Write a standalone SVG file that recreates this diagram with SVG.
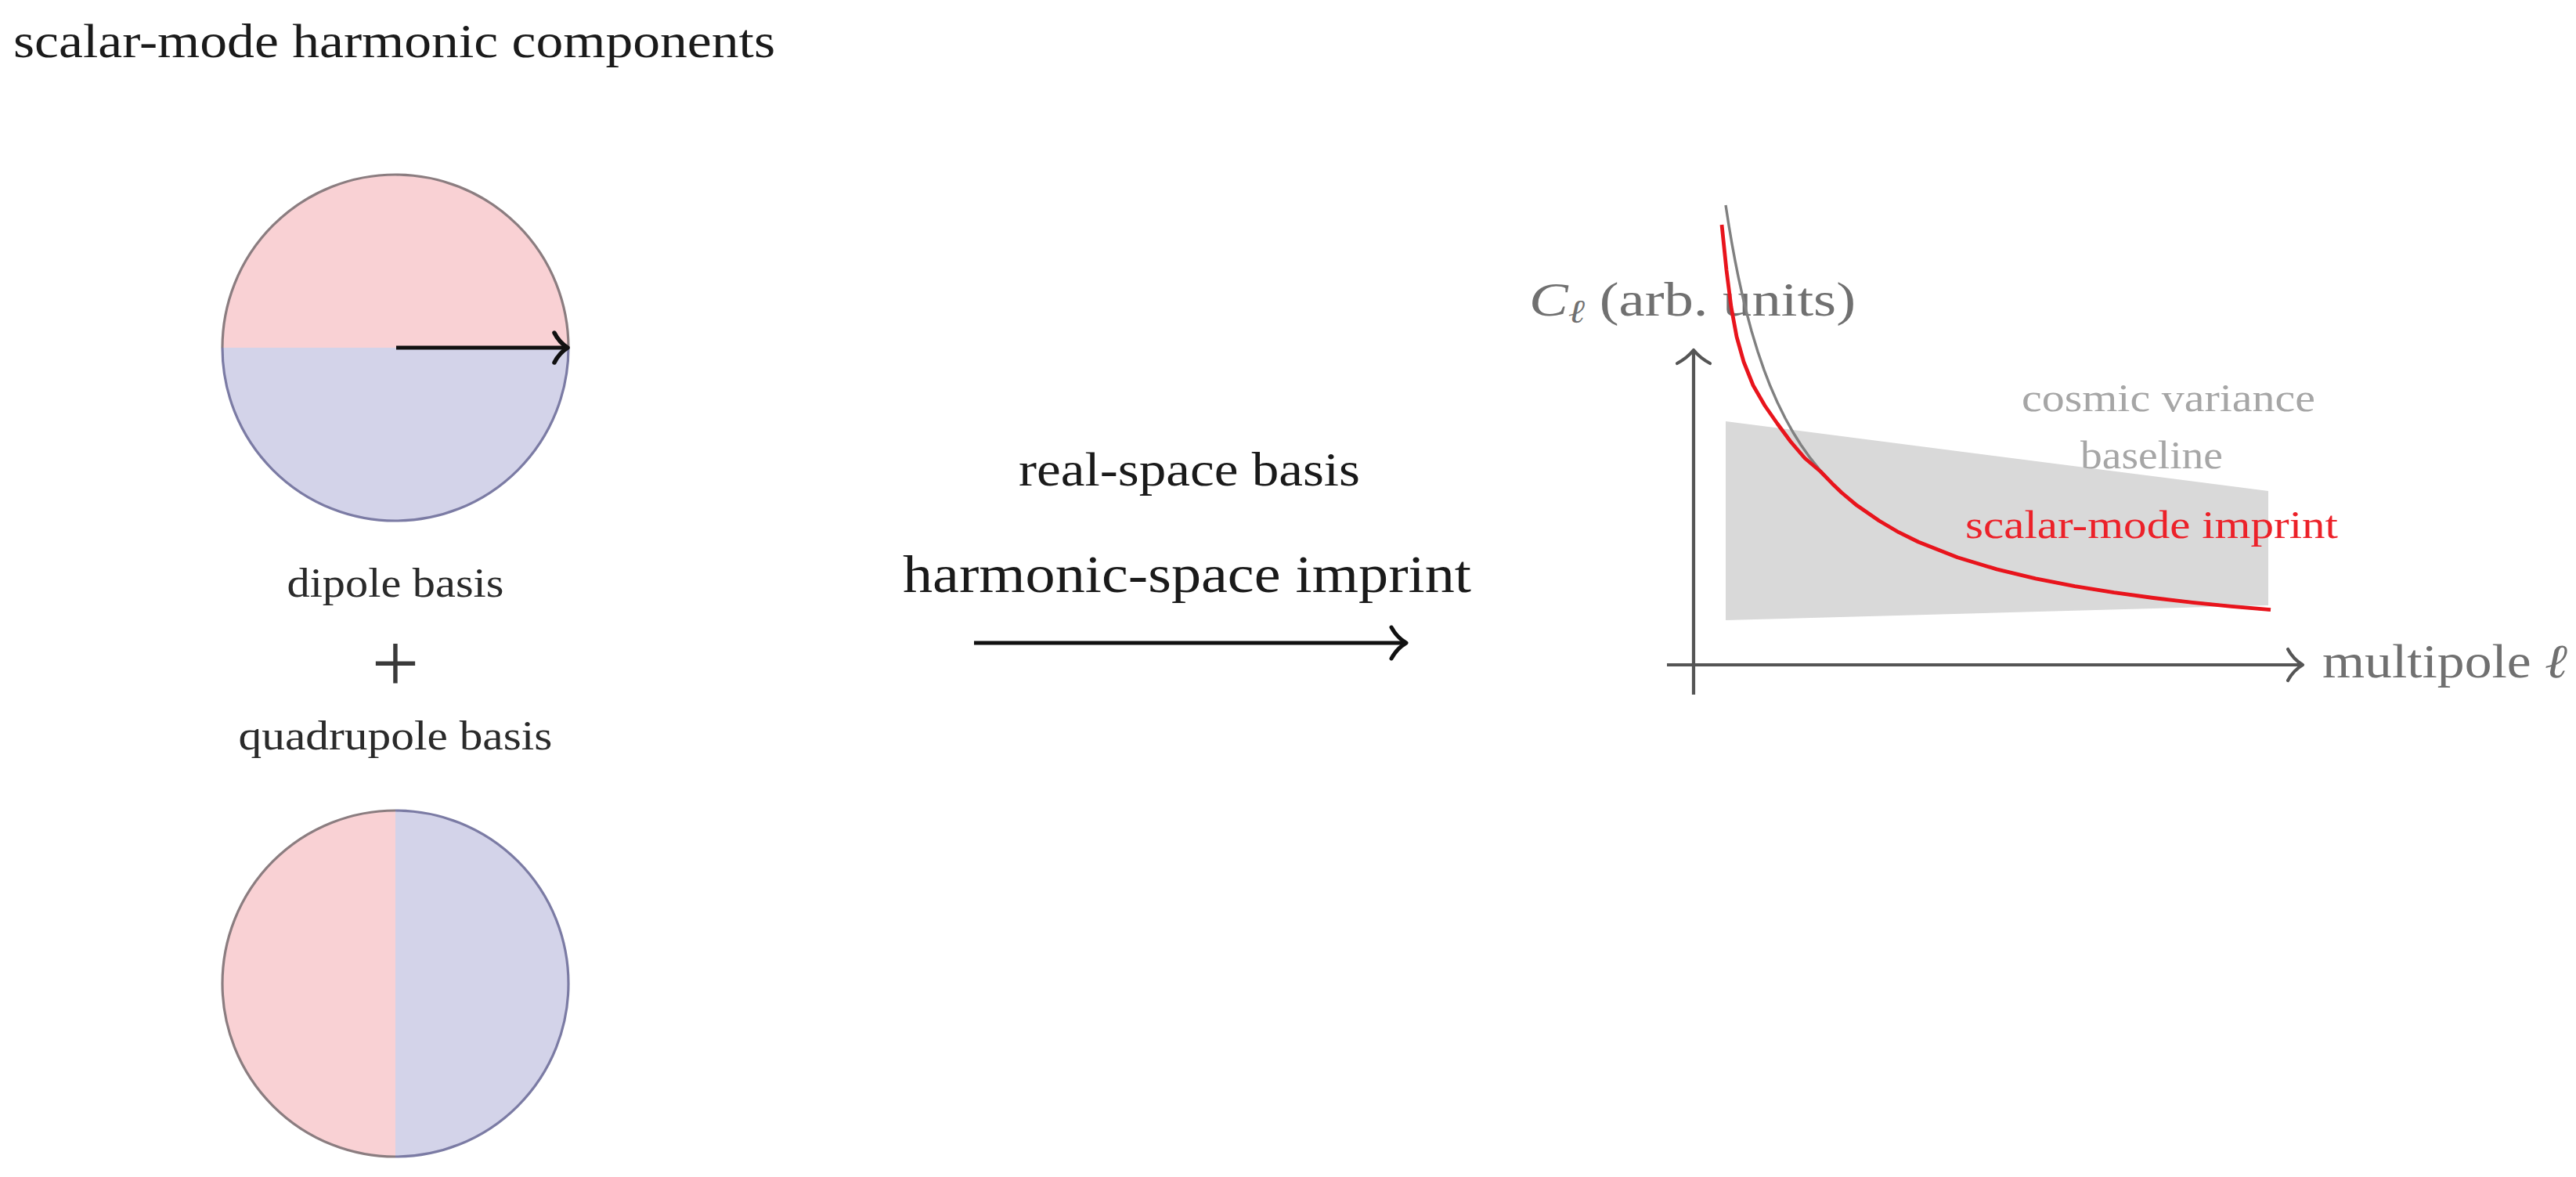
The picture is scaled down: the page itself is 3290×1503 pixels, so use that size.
<svg xmlns="http://www.w3.org/2000/svg" width="3290" height="1503" viewBox="0 0 3290 1503">
<style>
text { font-family: "Liberation Serif", "Times New Roman", serif; }
.title { font-size: 62px; fill: #1a1a1a; }
.small { font-size: 52px; fill: #2a2a2a; text-anchor: middle; }
.mid { font-size: 62px; fill: #1a1a1a; text-anchor: middle; }
.big { font-size: 67px; fill: #1a1a1a; text-anchor: middle; }
.axlab { font-size: 61px; fill: #707070; }
.lgray { font-size: 50px; fill: #a6a6a6; }
.lred { font-size: 50px; fill: #ec2129; }
.pink { fill: #f9d1d4; }
.lav { fill: #d3d3e9; }
.rimP { fill: none; stroke: #8b7d80; stroke-width: 3.2; }
.rimB { fill: none; stroke: #7b7ba4; stroke-width: 3.2; }
.chev { fill: none; stroke-linecap: round; stroke-linejoin: round; }
</style>

<text class="title" x="17" y="73" textLength="973" lengthAdjust="spacingAndGlyphs">scalar-mode harmonic components</text>

<g id="dipole">
  <path class="pink" d="M284 444 A221 221 0 0 1 726 444 Z"/>
  <path class="lav" d="M284 444 A221 221 0 0 0 726 444 Z"/>
  <path class="rimP" d="M284 444 A221 221 0 0 1 726 444"/>
  <path class="rimB" d="M284 444 A221 221 0 0 0 726 444"/>
  <line x1="506" y1="444" x2="723" y2="444" stroke="#111" stroke-width="5"/>
  <path class="chev" stroke="#111" stroke-width="5.5" d="M708 425 Q714 437 725 444 Q714 451 708 463"/>
</g>

<g id="labels-left">
  <text class="small" x="505" y="762" textLength="277" lengthAdjust="spacingAndGlyphs">dipole basis</text>
  <text x="505" y="883" font-size="108" fill="#3a3a3a" text-anchor="middle" font-family="Liberation Serif, serif">+</text>
  <text class="small" x="505" y="957" textLength="401" lengthAdjust="spacingAndGlyphs">quadrupole basis</text>
</g>

<g id="quadrupole">
  <path class="pink" d="M505 1035 A221 221 0 0 0 505 1477 Z"/>
  <path class="lav" d="M505 1035 A221 221 0 0 1 505 1477 Z"/>
  <path class="rimP" d="M505 1035 A221 221 0 0 0 505 1477"/>
  <path class="rimB" d="M505 1035 A221 221 0 0 1 505 1477"/>
</g>

<g id="transform">
  <text class="mid" x="1519" y="620" textLength="436" lengthAdjust="spacingAndGlyphs">real-space basis</text>
  <text class="big" x="1516" y="756" textLength="726" lengthAdjust="spacingAndGlyphs">harmonic-space imprint</text>
</g>

<g id="connectors">
  <line x1="1244" y1="821" x2="1793" y2="821" stroke="#111" stroke-width="4.8"/>
  <path class="chev" stroke="#111" stroke-width="5" d="M1777 801 Q1784 814 1796 821 Q1784 828 1777 841"/>
</g>

<g id="plot">
  <text class="axlab" x="1953" y="403" textLength="417" lengthAdjust="spacingAndGlyphs"><tspan font-style="italic">C</tspan><tspan font-style="italic" font-size="42" dy="9">ℓ</tspan><tspan dy="-9"> (arb. units)</tspan></text>
  <polygon points="2204,538 2897,627 2897,773 2204,792" fill="#d9d9d9"/>
  <text class="lgray" x="2582" y="525" textLength="375" lengthAdjust="spacingAndGlyphs">cosmic variance</text>
  <text class="lgray" x="2657" y="598" textLength="182" lengthAdjust="spacingAndGlyphs">baseline</text>
  <text class="lred" x="2510" y="687" textLength="476" lengthAdjust="spacingAndGlyphs">scalar-mode imprint</text>
  <g stroke="#555" stroke-width="4.2" fill="none">
    <line x1="2129" y1="849" x2="2938" y2="849"/>
    <path class="chev" d="M2922 829 Q2929 842 2941 849 Q2929 856 2922 869"/>
    <line x1="2163" y1="887" x2="2163" y2="450"/>
    <path class="chev" d="M2142 464 Q2155 457 2163 447 Q2171 457 2184 464"/>
  </g>
  <polyline fill="none" stroke="#808080" stroke-width="3.4" stroke-linejoin="round" points="2204,262 2208,287.7 2212,311.3 2216,332.9 2220,352.9 2225,375.7 2230,396.5 2237,422.7 2245,449 2253,472.4 2260,490.7 2270,513.8 2280,534 2290,552 2300,568 2312,584.9 2325,601 2340,617.4 2352,629 2370,644.2 2400,665 2425,679.7 2450,692 2500,711.7 2550,726.9 2600,738.9 2650,748.6 2700,756.7 2750,763.5 2800,769.3 2850,774.3 2900,778.7"/>
  <polyline fill="none" stroke="#e8141c" stroke-width="4.8" stroke-linejoin="round" stroke-linecap="butt" points="2199,287 2205,345 2211,392 2218,430 2227,462 2239,492 2254,518 2270,541 2287,564 2305,585 2325,602 2340,617.4 2352,629 2370,644.2 2400,665 2425,679.7 2450,692 2500,711.7 2550,726.9 2600,738.9 2650,748.6 2700,756.7 2750,763.5 2800,769.3 2850,774.3 2900,778.7"/>
  <text class="axlab" x="2966" y="865" textLength="313" lengthAdjust="spacingAndGlyphs">multipole <tspan font-style="italic">ℓ</tspan></text>
</g>
</svg>
